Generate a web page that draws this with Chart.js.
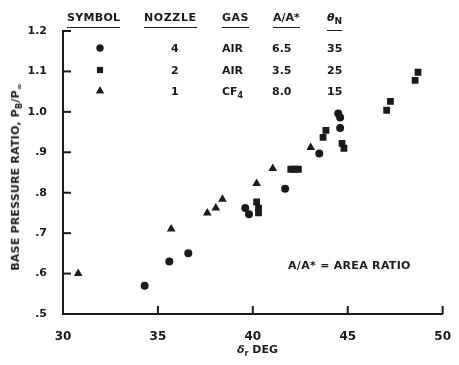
<!DOCTYPE html>
<html>
<head>
<meta charset="utf-8">
<script src="https://cdn.jsdelivr.net/npm/chart.js@4"></script>
<style>
  body { margin: 0; background: #fff; }
  #wrap { position: relative; width: 459px; height: 365px; }
  #wrap canvas { position: absolute; left: 0; top: 0; }
  .t { position: absolute; font: bold 11px "DejaVu Sans", sans-serif; color: #1a1a1a; white-space: nowrap; line-height: 1; }
  .u { border-bottom: 1.5px solid #1a1a1a; padding-bottom: 4px; }
</style>
</head>
<body>
<div id="wrap">
  <canvas id="chart" width="459" height="365"></canvas>

  <!-- tableau de legende -->
  <div class="t u" style="left:67px;top:12px;letter-spacing:0.3px">SYMBOL</div>
  <div class="t u" style="left:144px;top:12px;letter-spacing:0.6px">NOZZLE</div>
  <div class="t u" style="left:222px;top:12px;letter-spacing:0.5px">GAS</div>
  <div class="t u" style="left:273px;top:12px">A/A*</div>
  <div class="t u" style="left:327px;top:12px"><i>θ</i><sub style="font-size:9px">N</sub></div>

  <div class="t" style="left:171px;top:43px">4</div>
  <div class="t" style="left:222px;top:43px">AIR</div>
  <div class="t" style="left:272px;top:43px">6.5</div>
  <div class="t" style="left:327px;top:43px">35</div>

  <div class="t" style="left:171px;top:65px">2</div>
  <div class="t" style="left:222px;top:65px">AIR</div>
  <div class="t" style="left:272px;top:65px">3.5</div>
  <div class="t" style="left:327px;top:65px">25</div>

  <div class="t" style="left:171px;top:86px">1</div>
  <div class="t" style="left:222px;top:86px">CF<sub style="font-size:8px">4</sub></div>
  <div class="t" style="left:272px;top:86px">8.0</div>
  <div class="t" style="left:327px;top:86px">15</div>

  <div class="t" style="left:288px;top:260px;letter-spacing:0.3px">A/A* = AREA RATIO</div>
  <div class="t" style="left:237px;top:344px"><i>δ</i><sub style="font-size:8px">r</sub> DEG</div>
  <div class="t" style="left:17px;top:177px;transform:translate(-50%,-50%) rotate(-90deg);letter-spacing:0.2px">BASE PRESSURE RATIO, P<sub style="font-size:8px">B</sub>/P<sub style="font-size:8px">∞</sub></div>
</div>

<script>
// Donnees
const circleX = [34.3, 35.6, 36.6, 39.6, 39.8, 41.7, 43.5, 44.5, 44.6, 44.6];
const circleY = [0.57, 0.63, 0.65, 0.762, 0.747, 0.81, 0.897, 0.996, 0.986, 0.96];

const squareX = [40.2, 40.3, 40.3, 42.0, 42.2, 42.4, 43.7, 43.85, 44.7, 44.8, 47.05, 47.25, 48.55, 48.7];
const squareY = [0.777, 0.762, 0.75, 0.858, 0.858, 0.858, 0.937, 0.954, 0.922, 0.91, 1.004, 1.026, 1.078, 1.098];

const triX = [30.8, 35.7, 37.6, 38.05, 38.4, 40.2, 41.05, 43.05];
const triY = [0.60, 0.71, 0.75, 0.762, 0.784, 0.823, 0.86, 0.912];

// symboles de la legende (rangees du tableau)
const legendStyles = ['circle', 'rect', 'triangle'];
const legendRows = [48, 70, 91];

const xTicks = [30, 35, 40, 45, 50];
const yTicks = [0.5, 0.6, 0.7, 0.8, 0.9, 1.0, 1.1, 1.2];
const yTickLabels = ['.5', '.6', '.7', '.8', '.9', '1.0', '1.1', '1.2'];

const ink = '#1a1a1a';

function toPoints(xs, ys) {
    return xs.map((x, i) => ({ x: x, y: ys[i] }));
}

function markRadius(style) {
    return style === 'triangle' ? 5 : style === 'rect' ? 4.8 : 4;
}

// petits traits vers l'interieur + symboles de la legende
const inwardTicks = {
    id: 'inwardTicks',
    afterDraw(chart) {
        const ctx = chart.ctx;
        const xs = chart.scales.x;
        const ys = chart.scales.y;
        const area = chart.chartArea;
        ctx.save();
        ctx.strokeStyle = ink;
        ctx.lineWidth = 2;
        xTicks.forEach(v => {
            const px = xs.getPixelForValue(v);
            ctx.beginPath();
            ctx.moveTo(px, area.bottom);
            ctx.lineTo(px, area.bottom - 8);
            ctx.stroke();
        });
        yTicks.forEach(v => {
            const py = ys.getPixelForValue(v);
            ctx.beginPath();
            ctx.moveTo(area.left, py);
            ctx.lineTo(area.left + 8, py);
            ctx.stroke();
        });
        ctx.fillStyle = ink;
        legendStyles.forEach((s, i) => {
            Chart.helpers.drawPoint(ctx, { pointStyle: s, radius: markRadius(s) - 0.5, borderWidth: 0 }, 100, legendRows[i]);
            ctx.fill();
        });
        ctx.restore();
    }
};

function dataset(label, pts, style) {
    return {
        label: label,
        data: pts,
        pointStyle: style,
        pointRadius: markRadius(style),
        backgroundColor: ink,
        borderColor: ink,
        borderWidth: 0
    };
}

new Chart(document.getElementById('chart'), {
    type: 'scatter',
    data: {
        datasets: [
            dataset('Nozzle 4', toPoints(circleX, circleY), 'circle'),
            dataset('Nozzle 2', toPoints(squareX, squareY), 'rect'),
            dataset('Nozzle 1', toPoints(triX, triY), 'triangle')
        ]
    },
    options: {
        responsive: false,
        animation: false,
        layout: { padding: { top: 31, right: 4, left: 0, bottom: 0 } },
        plugins: { legend: { display: false }, tooltip: { enabled: false } },
        scales: {
            x: {
                type: 'linear',
                min: 30,
                max: 50,
                afterFit: s => { s.height = 51; },
                afterBuildTicks: s => { s.ticks = xTicks.map(v => ({ value: v })); },
                grid: { display: false },
                border: { display: true, color: ink, width: 2 },
                ticks: {
                    color: ink,
                    padding: 8,
                    font: { family: 'DejaVu Sans', weight: 'bold', size: 12 },
                    callback: v => String(v)
                }
            },
            y: {
                type: 'linear',
                min: 0.5,
                max: 1.2,
                afterFit: s => { s.width = 63; },
                afterBuildTicks: s => { s.ticks = yTicks.map(v => ({ value: v })); },
                grid: { display: false },
                border: { display: true, color: ink, width: 2 },
                ticks: {
                    color: ink,
                    padding: 8,
                    font: { family: 'DejaVu Sans', weight: 'bold', size: 11 },
                    callback: v => yTickLabels[yTicks.findIndex(t => Math.abs(t - v) < 1e-6)]
                }
            }
        }
    },
    plugins: [inwardTicks]
});
</script>
</body>
</html>
